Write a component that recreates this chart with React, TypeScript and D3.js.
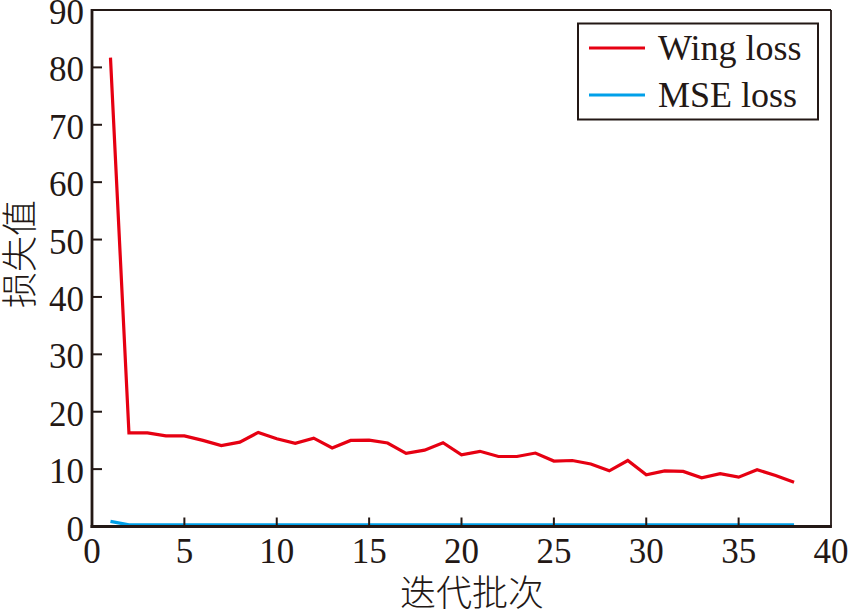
import React from "react";
import * as d3 from "d3";

const iterations: number[] = Array.from({ length: 38 }, (_, i) => i + 1);
const wingLoss: number[] = [
  81.7, 16.3, 16.3, 15.8, 15.8, 15.0, 14.1, 14.7, 16.4, 15.3,
  14.5, 15.4, 13.7, 15.0, 15.05, 14.55, 12.75, 13.3, 14.6, 12.5,
  13.1, 12.2, 12.2, 12.8, 11.4, 11.5, 10.9, 9.7, 11.5, 9.0,
  9.7, 9.6, 8.5, 9.2, 8.6, 9.9, 8.9, 7.7,
];
const mseLoss: number[] = [
  0.9, 0.3, 0.3, 0.3, 0.3, 0.3, 0.3, 0.3, 0.3, 0.3,
  0.3, 0.3, 0.3, 0.3, 0.3, 0.3, 0.3, 0.3, 0.3, 0.3,
  0.3, 0.3, 0.3, 0.3, 0.3, 0.3, 0.3, 0.3, 0.3, 0.3,
  0.3, 0.3, 0.3, 0.3, 0.3, 0.3, 0.3, 0.3,
];
const xTicks: number[] = [0, 5, 10, 15, 20, 25, 30, 35, 40];
const yTicks: number[] = [0, 10, 20, 30, 40, 50, 60, 70, 80, 90];
const seriesNames: string[] = ["Wing loss", "MSE loss"];
const xTitle = "迭代批次";
const yTitle = "损失值";

const INK = "#231815";
const RED = "#e60012";
const BLUE = "#00a0e9";
const SERIF = "'Liberation Serif', 'DejaVu Serif', serif";
const CJK = "'Noto Sans CJK SC', sans-serif";

export default function App() {
  const left = 92, right = 831, top = 10, bottom = 526.5;
  const x = d3.scaleLinear().domain([0, 40]).range([left, right]);
  const y = d3.scaleLinear().domain([0, 90]).range([bottom, top]);
  const line = d3
    .line<number>()
    .x((_, i) => x(iterations[i]))
    .y((d) => y(d));

  const colors = [RED, BLUE];
  const data = [wingLoss, mseLoss];

  return (
    <svg
      width={850}
      height={613}
      style={{ position: "absolute", left: 0, top: 0, background: "#fff" }}
    >
      {data.map((s, k) => (
        <path
          key={k}
          d={line(s) || ""}
          fill="none"
          stroke={colors[k]}
          strokeWidth={3.2}
          strokeLinejoin="miter"
        />
      ))}

      <line x1={left} x2={right} y1={top} y2={top} stroke={INK} strokeWidth={1.8} />
      <line x1={right} x2={right} y1={top} y2={bottom} stroke={INK} strokeWidth={1.8} />
      <line x1={left} x2={left} y1={top - 0.9} y2={bottom + 1.4} stroke={INK} strokeWidth={2.8} />
      <line x1={left - 1.4} x2={right + 0.9} y1={bottom} y2={bottom} stroke={INK} strokeWidth={2.8} />

      {xTicks.map((t) => (
        <g key={"x" + t}>
          {t > 0 && t < 40 && (
            <line x1={x(t)} x2={x(t)} y1={bottom} y2={bottom - 9} stroke={INK} strokeWidth={2} />
          )}
          <text
            x={x(t)}
            y={563}
            textAnchor="middle"
            fontFamily={SERIF}
            fontSize={35}
            fill={INK}
          >
            {t}
          </text>
        </g>
      ))}

      {yTicks.map((t) => (
        <g key={"y" + t}>
          {t > 0 && t < 90 && (
            <line x1={left} x2={left + 10} y1={y(t)} y2={y(t)} stroke={INK} strokeWidth={2} />
          )}
          <text
            x={84}
            y={y(t) + 14}
            textAnchor="end"
            fontFamily={SERIF}
            fontSize={35}
            fill={INK}
          >
            {t}
          </text>
        </g>
      ))}

      <text
        x={472}
        y={606}
        textAnchor="middle"
        fontFamily={CJK}
        fontSize={36}
        fontWeight={300}
        fill={INK}
      >
        {xTitle}
      </text>
      <text
        transform="translate(33,254) rotate(-90)"
        textAnchor="middle"
        fontFamily={CJK}
        fontSize={36}
        fontWeight={300}
        fill={INK}
      >
        {yTitle}
      </text>

      <rect x={578} y={23.5} width={240} height={96} fill="#fff" stroke={INK} strokeWidth={2} />
      {seriesNames.map((n, k) => (
        <g key={n}>
          <line
            x1={589}
            x2={645}
            y1={48 + k * 47}
            y2={48 + k * 47}
            stroke={colors[k]}
            strokeWidth={3}
          />
          <text
            x={658}
            y={60 + k * 47}
            fontFamily={SERIF}
            fontSize={36}
            fill={INK}
          >
            {n}
          </text>
        </g>
      ))}
    </svg>
  );
}
